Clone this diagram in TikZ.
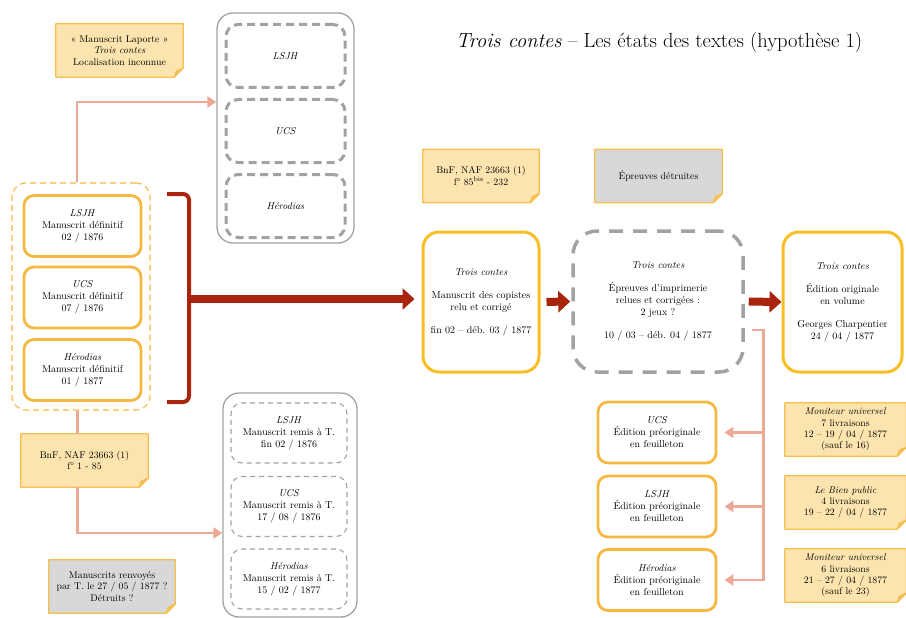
\documentclass[tikz,border=0pt]{standalone}
\usetikzlibrary{arrows.meta,backgrounds}
\definecolor{notefill}{RGB}{252,228,174}
\definecolor{notebord}{RGB}{246,192,80}
\definecolor{foldcol}{RGB}{238,194,108}
\definecolor{notegray}{RGB}{216,216,216}
\definecolor{boxorange}{RGB}{247,184,66}
\definecolor{boxgold}{RGB}{248,190,36}
\definecolor{darkred}{RGB}{168,36,12}
\definecolor{salmon}{RGB}{236,170,150}
\definecolor{linegray}{RGB}{162,162,162}
\newcommand{\boxfont}{\fontsize{10}{12}\selectfont}
\tikzset{
  notenode/.style  = {align=center, inner sep=2pt, text centered,
    minimum height=53pt, font=\fontsize{9.8}{11.3}\selectfont},
  notedraw/.style  = {draw=notebord, line width=1.2pt, line join=round},
  defbox/.style    = {align=center, inner sep=2pt, text centered, font=\boxfont,
    draw=boxorange, line width=2.8pt, rounded corners=10pt,
    minimum width=117pt, minimum height=61pt},
  edbox/.style     = {defbox, minimum width=118pt},
  groupbox/.style  = {draw=boxorange, line width=1.1pt, dash pattern=on 6pt off 4pt,
    rounded corners=14pt, minimum width=138pt, minimum height=227pt},
  graybox/.style   = {draw=linegray, line width=1.3pt, rounded corners=16pt},
  lostbox/.style   = {align=center, font=\boxfont, draw=linegray, line width=3pt,
    dash pattern=on 8pt off 5pt, rounded corners=12pt,
    minimum width=119pt, minimum height=63pt},
  remisbox/.style  = {align=center, font=\boxfont, draw=linegray, line width=1.1pt,
    dash pattern=on 5pt off 4pt, rounded corners=11pt,
    minimum width=116pt, minimum height=60pt},
  mainbox/.style   = {align=center, inner sep=2pt, font=\boxfont, draw=boxgold,
    line width=3pt, rounded corners=16pt, minimum width=116pt, minimum height=140pt},
  proofbox/.style  = {mainbox, draw=linegray, line width=3.5pt,
    dash pattern=on 14pt off 10pt, rounded corners=24pt,
    minimum width=170pt, minimum height=141pt},
}
\newcommand{\foldnote}[5][notefill]{%
  \node[notenode, minimum width=#4] (#2) at (#3) {#5};
  \begin{scope}[on background layer]
    \filldraw[notedraw, fill=#1] (#2.south west) -- (#2.north west) -- (#2.north east)
      -- ([yshift=9pt]#2.south east) -- ([xshift=-9pt]#2.south east) -- cycle;
    \filldraw[notedraw, fill=foldcol] ([yshift=9pt]#2.south east)
      -- ([xshift=-9pt]#2.south east) -- ([shift={(-7pt,6pt)}]#2.south east) -- cycle;
  \end{scope}
}

\begin{document}
\begin{tikzpicture}[x=1pt, y=-1pt,
    bigarrow/.style = {draw=darkred, line width=8pt,
      -{Triangle[width=21pt,length=12pt]}},
    bracket/.style  = {draw=darkred, line width=4pt, rounded corners=6pt},
    thinline/.style = {draw=salmon, line width=2.5pt},
    thinarrow/.style = {thinline, -{Triangle[width=11pt,length=9pt]}}]
  \useasboundingbox (0,0) rectangle (906,618);

  \node (title) at (659,42) {\fontsize{20.5}{24}\selectfont
    \textit{Trois contes} -- Les états des textes (hypothèse 1)};

  \foldnote{laporte}{119.5,50.5}{127pt}{« Manuscrit Laporte »\\ \textit{Trois contes}\\ Localisation inconnue}
  \foldnote{bnfleft}{84.5,460.5}{127pt}{BnF, NAF 23663 (1)\\ f° 1 - 85}
  \foldnote[notegray]{renvoyes}{112,586.5}{126pt}{Manuscrits renvoyés\\ par T. le 27 / 05 / 1877 ?\\ Détruits ?}
  \foldnote{bnfmid}{481,176}{116pt}{BnF, NAF 23663 (1)\\ f° 85\textsuperscript{bis} - 232}
  \foldnote[notegray]{detruites}{658.5,176}{127pt}{Épreuves détruites}
  \foldnote{moniteurA}{845.5,429.5}{121pt}{\textit{Moniteur universel}\\ 7 livraisons\\ 12 -- 19 / 04 / 1877\\ (sauf le 16)}
  \foldnote{bienpublic}{845.5,502.5}{121pt}{\textit{Le Bien public}\\ 4 livraisons\\ 19 -- 22 / 04 / 1877}
  \foldnote{moniteurB}{845.5,575.5}{121pt}{\textit{Moniteur universel}\\ 6 livraisons\\ 21 -- 27 / 04 / 1877\\ (sauf le 23)}

  \node [groupbox] (defgroup) at (81,296.5) {};
  \node [defbox] (defLSJH) at (82.5,226) {\textit{LSJH}\\ Manuscrit définitif\\ 02 / 1876};
  \node [defbox] (defUCS) at (82.5,297.5) {\textit{UCS}\\ Manuscrit définitif\\ 07 / 1876};
  \node [defbox] (defHer) at (82.5,370) {\textit{Hérodias}\\ Manuscrit définitif\\ 01 / 1877};

  \node [graybox, minimum width=137pt, minimum height=230pt] (topgray) at (285.5,128) {};
  \node [lostbox] (lostLSJH) at (285.5,56) {\textit{LSJH}};
  \node [lostbox] (lostUCS) at (285.5,131) {\textit{UCS}};
  \node [lostbox] (lostHer) at (285.5,206) {\textit{Hérodias}};

  \node [graybox, minimum width=134pt, minimum height=224pt] (botgray) at (290,505) {};
  \node [remisbox] (remLSJH) at (289,433) {\textit{LSJH}\\ Manuscrit remis à T.\\ fin 02 / 1876};
  \node [remisbox] (remUCS) at (289,506.5) {\textit{UCS}\\ Manuscrit remis à T.\\ 17 / 08 / 1876};
  \node [remisbox] (remHer) at (289,579) {\textit{Hérodias}\\ Manuscrit remis à T.\\ 15 / 02 / 1877};

  \node [mainbox] (copistes) at (481,302) {\textit{Trois contes}\\[11pt]
    Manuscrit des copistes\\ relu et corrigé\\[11pt] fin 02 -- déb. 03 / 1877};
  \node [proofbox] (proofs) at (658,301.5) {\textit{Trois contes}\\[11pt]
    Épreuves d'imprimerie\\ relues et corrigées :\\ 2 jeux ?\\[11pt] 10 / 03 -- déb. 04 / 1877};
  \node [mainbox, minimum width=119pt] (final) at (842.5,302) {\textit{Trois contes}\\[11pt]
    Édition originale\\ en volume\\[11pt] Georges Charpentier\\ 24 / 04 / 1877};

  \node [edbox] (edUCS) at (657,432.5) {\textit{UCS}\\ Édition préoriginale\\ en feuilleton};
  \node [edbox] (edLSJH) at (657,506.5) {\textit{LSJH}\\ Édition préoriginale\\ en feuilleton};
  \node [edbox] (edHer) at (657,580) {\textit{Hérodias}\\ Édition préoriginale\\ en feuilleton};

  \draw [bracket] (167,194) -- (189,194) -- (189,402) -- (167,402);
  \coordinate (brackmid) at (189,299);
  \draw [bigarrow, shorten >=7pt] (brackmid) -- (brackmid -| copistes.west);
  \draw [bigarrow, shorten <=6pt, shorten >=1pt] (copistes.east) -- (proofs.west);
  \draw [bigarrow, shorten <=4pt] (proofs.east) -- (final.west);

  \draw [thinarrow] ([xshift=-4pt]defgroup.north) |- ([yshift=26pt]topgray.west);
  \draw [thinline] ([xshift=-3.5pt]defgroup.south) -- ([xshift=-7pt]bnfleft.north);
  \draw [thinarrow] ([xshift=-7pt]bnfleft.south) |- ([yshift=-28pt]botgray.west);

  \draw [thinarrow, shorten >=7pt] ([xshift=7pt,yshift=-28.5pt]proofs.east)
    -| ([xshift=46pt]edHer.east) -- (edHer.east);
  \draw [thinarrow, shorten >=7pt] ([xshift=46pt]edUCS.east) -- (edUCS.east);
  \draw [thinarrow, shorten >=7pt] ([xshift=46pt]edLSJH.east) -- (edLSJH.east);
\end{tikzpicture}
\end{document}
